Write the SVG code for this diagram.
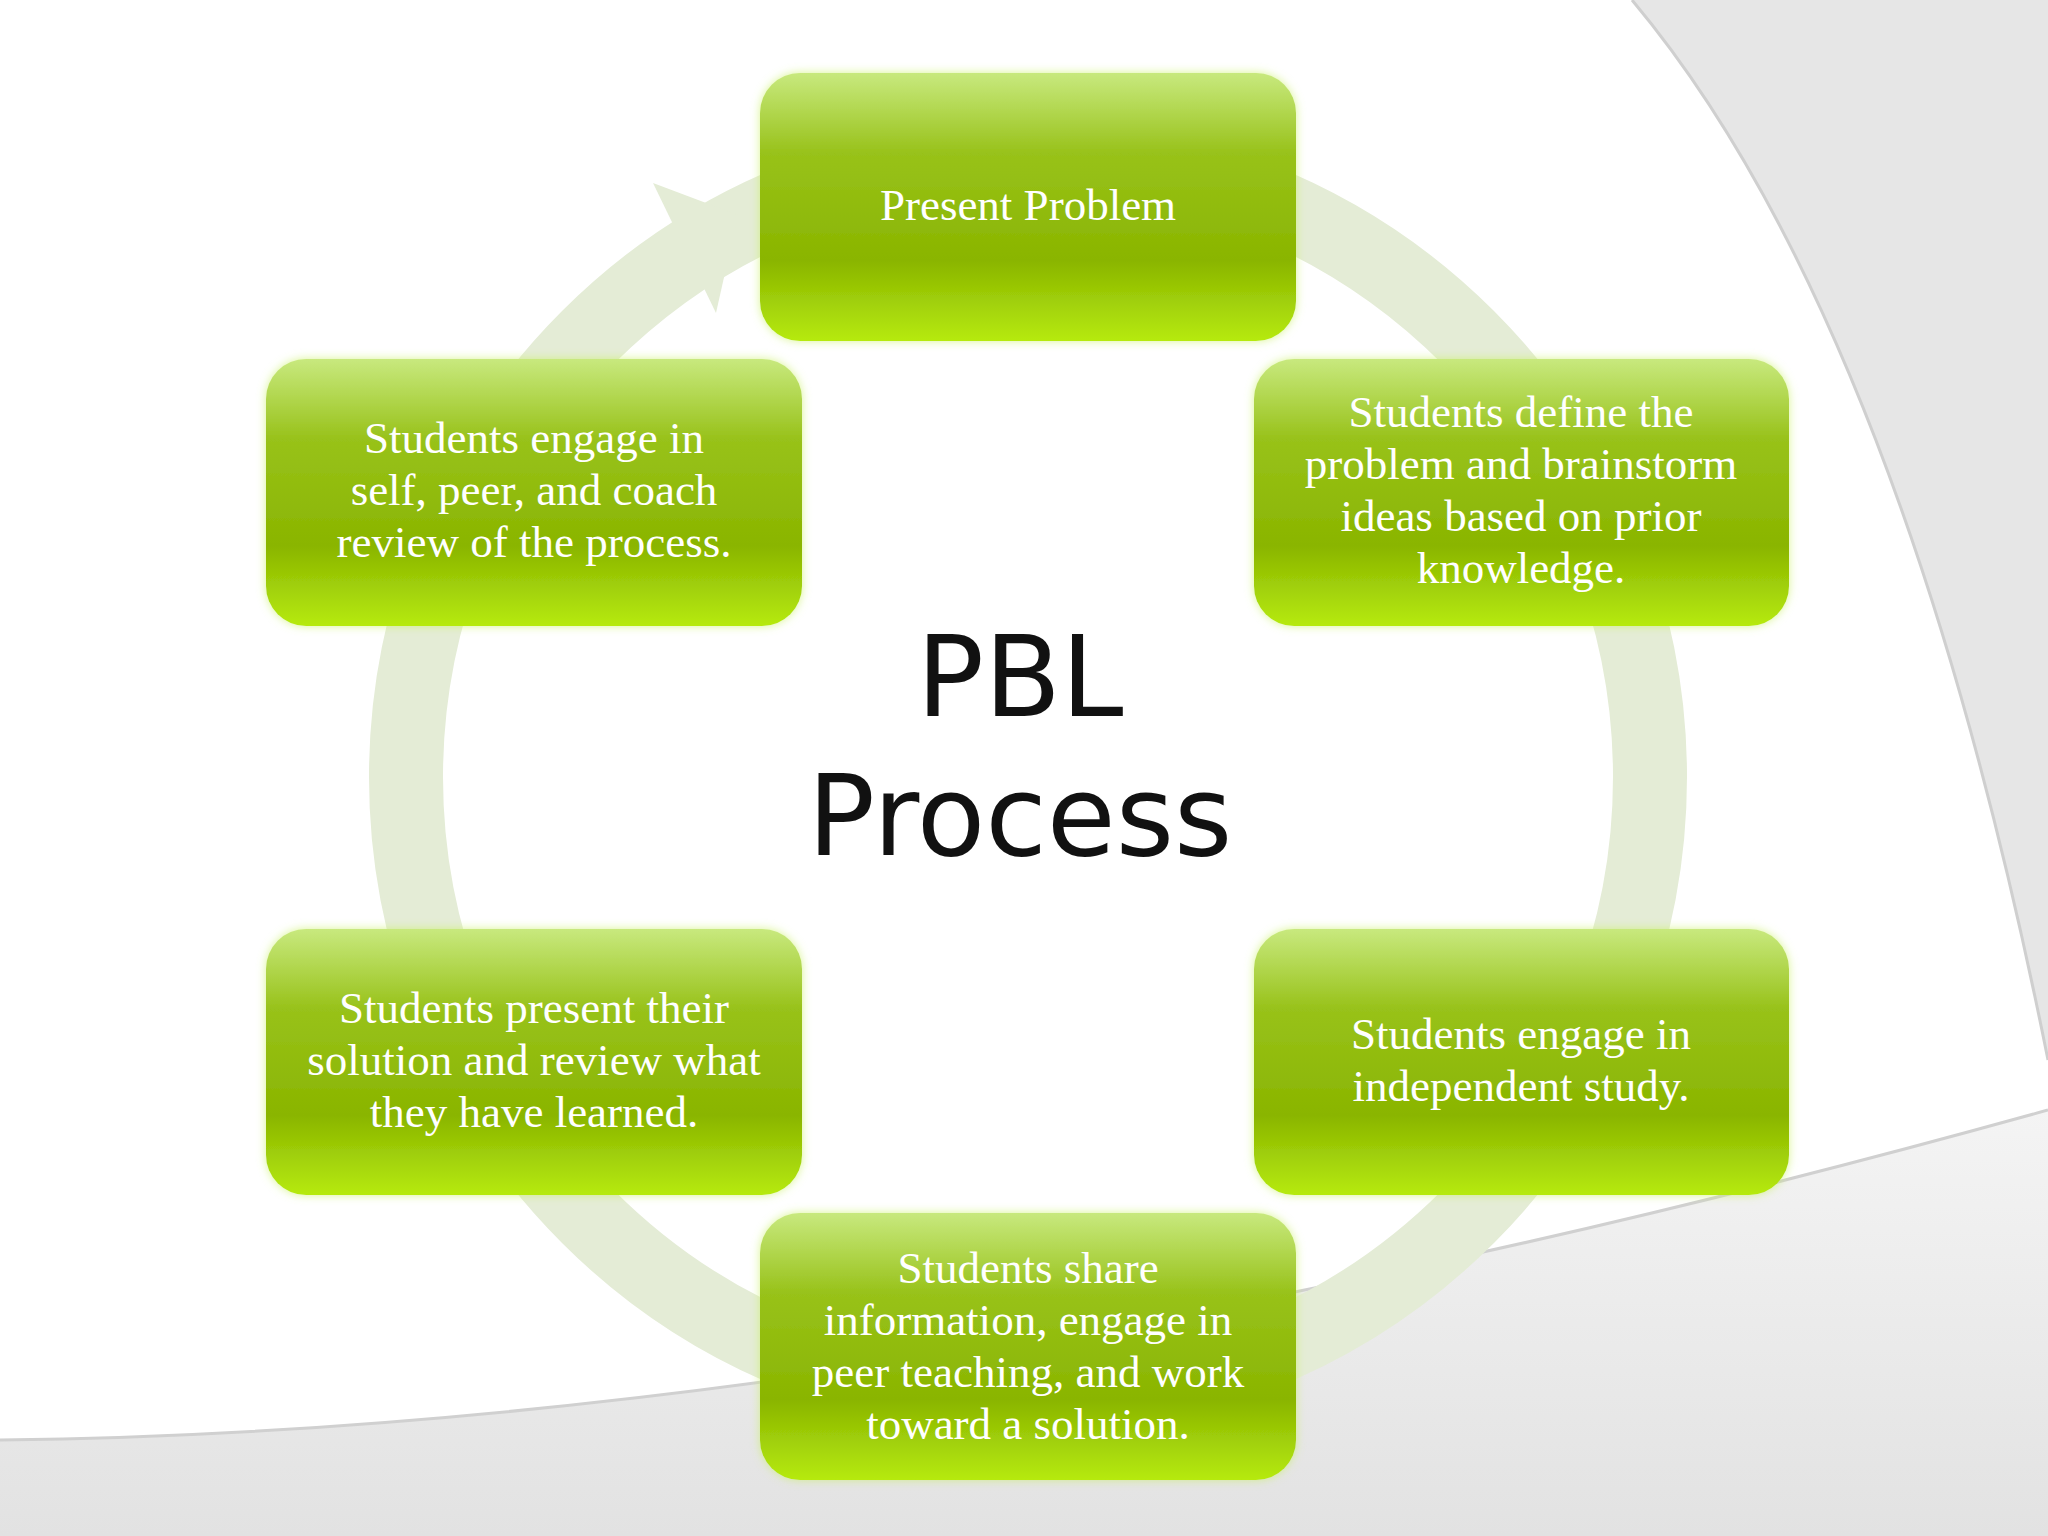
<svg xmlns="http://www.w3.org/2000/svg" width="2048" height="1536" viewBox="0 0 2048 1536">
<defs>
<linearGradient id="g" x1="0" y1="0" x2="0" y2="1">
<stop offset="0" stop-color="#c8e97e"/><stop offset="0.3" stop-color="#98c21a"/><stop offset="0.7" stop-color="#8ab500"/><stop offset="1" stop-color="#b6ea10"/>
</linearGradient>
<linearGradient id="bg" x1="0" y1="0" x2="0" y2="1">
<stop offset="0" stop-color="#f4f4f4"/><stop offset="1" stop-color="#e2e2e2"/>
</linearGradient>
<filter id="glow" x="-10%" y="-10%" width="120%" height="120%">
<feGaussianBlur in="SourceAlpha" stdDeviation="6"/><feFlood flood-color="#c8f060" flood-opacity="0.7"/><feComposite operator="in" in2="SourceAlpha"/>
<feGaussianBlur stdDeviation="5"/><feMerge><feMergeNode/><feMergeNode in="SourceGraphic"/></feMerge>
</filter>
</defs>
<style>
.box{fill:url(#g);filter:url(#glow)}
.t{font-family:"Liberation Serif",serif;font-size:45px;fill:#ffffff;text-anchor:middle}
.c{font-family:"DejaVu Sans",sans-serif;font-size:112px;fill:#111;text-anchor:middle}
</style>
<rect width="2048" height="1536" fill="#fff"/>
<path d="M1632 0 Q1900 320 2048 1060 L2048 0 Z" fill="#e6e6e6"/>
<path d="M1632 0 Q1900 320 2048 1060" fill="none" stroke="#cfcfcf" stroke-width="3"/>
<path d="M0 1440 Q900 1430 2048 1110 L2048 1536 L0 1536 Z" fill="url(#bg)"/>
<path d="M0 1440 Q900 1430 2048 1110" fill="none" stroke="#d0d0d0" stroke-width="3"/>
<g id="connectors">
<circle cx="1028" cy="777" r="622" fill="none" stroke="#e4ecd6" stroke-width="74"/>
<polygon points="653,183 738,215 716,313" fill="#e4ecd6"/>
</g>
<g id="top"><rect class="box" x="760" y="73" width="536" height="268" rx="40"/>
<text class="t" x="1028" y="220">Present Problem</text></g>
<g id="right-upper"><rect class="box" x="1254" y="359" width="535" height="267" rx="40"/>
<text class="t" x="1521" y="427">Students define the</text><text class="t" x="1521" y="479">problem and brainstorm</text><text class="t" x="1521" y="531">ideas based on prior</text><text class="t" x="1521" y="583">knowledge.</text></g>
<g id="right-lower"><rect class="box" x="1254" y="929" width="535" height="266" rx="40"/>
<text class="t" x="1521" y="1049">Students engage in</text><text class="t" x="1521" y="1101">independent study.</text></g>
<g id="bottom"><rect class="box" x="760" y="1213" width="536" height="267" rx="40"/>
<text class="t" x="1028" y="1283">Students share</text><text class="t" x="1028" y="1335">information, engage in</text><text class="t" x="1028" y="1387">peer teaching, and work</text><text class="t" x="1028" y="1439">toward a solution.</text></g>
<g id="left-lower"><rect class="box" x="266" y="929" width="536" height="266" rx="40"/>
<text class="t" x="534" y="1023">Students present their</text><text class="t" x="534" y="1075">solution and review what</text><text class="t" x="534" y="1127">they have learned.</text></g>
<g id="left-upper"><rect class="box" x="266" y="359" width="536" height="267" rx="40"/>
<text class="t" x="534" y="453">Students engage in</text><text class="t" x="534" y="505">self, peer, and coach</text><text class="t" x="534" y="557">review of the process.</text></g>
<g id="center"><text class="c" x="1020" y="716">PBL</text><text class="c" x="1020" y="855">Process</text></g>
</svg>
